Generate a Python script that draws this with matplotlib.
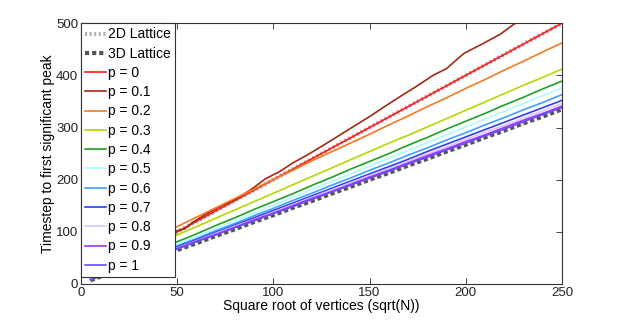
import matplotlib
matplotlib.use('Agg')
import matplotlib.pyplot as plt

plt.rcParams['font.family'] = ['Liberation Sans', 'DejaVu Sans']

# ── data ─────────────────────────────────────────────────────────────
x = [5, 10, 20, 30, 40, 50, 60, 70, 80, 90, 100, 110, 120, 130, 140, 150,
     160, 170, 180, 190, 200, 210, 220, 230, 240, 250]

lattice_2d = [11, 21, 41, 61, 81, 100, 120, 140, 160, 180, 200, 220, 240, 260,
              280, 300, 320, 340, 360, 380, 400, 420, 440, 460, 480, 499]
lattice_3d = [7, 14, 26, 38, 51, 65, 78, 92, 105, 119, 132, 146, 159, 173, 186,
              200, 213, 227, 240, 254, 267, 281, 294, 308, 321, 335]

p_labels = ['p = 0', 'p = 0.1', 'p = 0.2', 'p = 0.3', 'p = 0.4', 'p = 0.5',
            'p = 0.6', 'p = 0.7', 'p = 0.8', 'p = 0.9', 'p = 1']
p_colors = ['#ff1a1a', '#a02a14', '#f47a20', '#b8d600', '#22a022', '#aefcff',
            '#40a0ff', '#2a40ff', '#dcc6ff', '#a432ff', '#6a4cff']

p00 = [12, 21, 41, 61, 81, 100, 120, 140, 160, 180, 200, 220, 240, 260, 280,
       300, 320, 340, 360, 380, 400, 420, 440, 460, 480, 500]
# p = 0.1 is noisier and sampled on its own grid
x01 = [5, 10, 20, 30, 40, 46, 50, 54, 58, 65, 72, 81, 88, 96, 103, 111, 117,
       126, 133, 143, 150, 159, 167, 174, 183, 190, 199, 209, 218, 225, 232]
p01 = [14, 24, 45, 67, 90, 103, 102, 106, 118, 134, 148, 164, 180, 202, 215,
       234, 246, 266, 282, 305, 321, 343, 362, 378, 400, 413, 442, 461, 479,
       498, 512]
p02 = [14, 24, 45, 67, 90, 110, 128, 146, 164, 182, 200, 218, 236, 253, 270,
       287, 305, 322, 340, 357, 375, 392, 410, 427, 445, 462]
p03 = [12, 20, 37, 58, 78, 94, 110, 126, 142, 158, 174, 190, 206, 222, 238,
       254, 270, 285, 301, 317, 333, 349, 365, 381, 396, 412]
p04 = [11, 18, 33, 50, 66, 81, 96, 112, 127, 143, 158, 173, 189, 204, 220,
       235, 250, 266, 281, 297, 312, 327, 343, 358, 374, 389]
p05 = [10, 17, 31, 46, 61, 76, 91, 106, 121, 136, 151, 166, 181, 196, 211,
       226, 241, 256, 271, 286, 301, 316, 331, 346, 361, 376]
p06 = [9, 16, 30, 44, 59, 73, 87, 102, 116, 131, 145, 160, 174, 189, 203,
       218, 232, 247, 261, 276, 290, 305, 319, 334, 348, 363]
p07 = [9, 16, 29, 43, 57, 71, 85, 99, 113, 127, 141, 155, 169, 183, 197,
       211, 225, 239, 254, 268, 282, 296, 310, 324, 338, 352]
p08 = [9, 15, 29, 42, 55, 69, 83, 97, 111, 124, 138, 152, 166, 180, 194,
       208, 221, 235, 249, 263, 277, 291, 304, 318, 332, 346]
p09 = [8, 15, 28, 41, 54, 68, 82, 95, 109, 123, 136, 150, 164, 177, 191,
       205, 218, 232, 246, 259, 273, 286, 300, 314, 327, 341]
p10 = [8, 15, 28, 40, 53, 67, 81, 94, 108, 121, 135, 148, 162, 176, 189,
       203, 216, 230, 243, 257, 270, 284, 297, 311, 325, 338]

p_series = [(x, p00), (x01, p01), (x, p02), (x, p03), (x, p04), (x, p05),
            (x, p06), (x, p07), (x, p08), (x, p09), (x, p10)]

# ── plot ─────────────────────────────────────────────────────────────
fig = plt.figure(figsize=(6.23, 3.2), dpi=100)
ax = fig.add_axes([0.130, 0.1125, 0.772, 0.815])

ax.plot(x, lattice_2d, color='#b0b0b0', lw=3, ls=(0, (0.5, 0.6)),
        label='2D Lattice')
ax.plot(x, lattice_3d, color='#555555', lw=3, ls=(0, (1, 0.7)),
        label='3D Lattice')
for (xs, ys), lab, col in zip(p_series, p_labels, p_colors):
    ax.plot(xs, ys, color=col, lw=1.2, label=lab)

ax.set_xlim(0, 250)
ax.set_ylim(0, 500)
ax.set_xticks([0, 50, 100, 150, 200, 250])
ax.set_yticks([0, 100, 200, 300, 400, 500])
ax.tick_params(direction='in', top=True, right=True, length=4, width=0.6,
               labelsize=9.5, pad=2, colors='#222222')
for s in ax.spines.values():
    s.set_color('#333333')
    s.set_linewidth(0.8)

ax.set_xlabel('Square root of vertices (sqrt(N))', fontsize=10, labelpad=0)
ax.set_ylabel('Timestep to first significant peak', fontsize=10, labelpad=1)

leg = ax.legend(loc='upper left', fontsize=10, frameon=True, fancybox=False,
                framealpha=1, edgecolor='#333333', borderaxespad=0,
                handlelength=1.5, handletextpad=0.15, labelspacing=0.38,
                borderpad=0.3)
leg.get_frame().set_linewidth(0.8)

fig.savefig('out.png', dpi=100)
